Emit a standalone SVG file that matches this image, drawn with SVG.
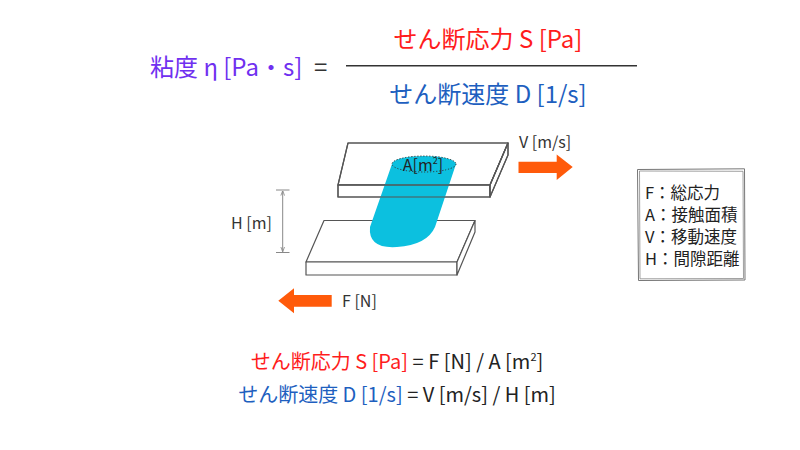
<svg xmlns="http://www.w3.org/2000/svg" width="800" height="450" viewBox="0 0 800 450">
<defs>
<style>
text{font-family:"Noto Sans CJK JP","Noto Sans",sans-serif;}
.plate{fill:#fff;stroke:#555;stroke-width:1.2;stroke-linejoin:round}
.edge{fill:none;stroke:#555;stroke-width:1.2;stroke-linejoin:round}
.arrow{fill:#ff5a0a}
.dim{stroke:#888;stroke-width:1;fill:none}
.lbl{font-size:16px;fill:#333}
.leg{font-size:16.5px;fill:#222}
.purple{fill:#7030f0}
.red{fill:#ff1c1c}
.blue{fill:#1e5fbf}
.blk{fill:#222}
</style>
<marker id="ah" viewBox="0 0 6 6" refX="5.5" refY="3" markerWidth="5" markerHeight="5" orient="auto-start-reverse">
<path d="M0,0.8 L6,3 L0,5.2" fill="none" stroke="#888" stroke-width="1"/>
</marker>
</defs>
<rect width="800" height="450" fill="#fff"/>

<g id="formula">
<text x="150" y="76" font-size="24" class="purple">粘度 η [Pa・s]</text>
<text x="314" y="76" font-size="24" fill="#333">=</text>
<line x1="346" y1="65.7" x2="637" y2="65.7" stroke="#333" stroke-width="1.5"/>
<text x="488" y="48" font-size="24" text-anchor="middle" class="red">せん断応力 S [Pa]</text>
<text x="488" y="103" font-size="24" text-anchor="middle" class="blue">せん断速度 D [1/s]</text>
</g>

<g id="bottom-plate">
<path class="plate" d="M324,220.5 L475,220.5 L457,262 L306,262 Z"/>
<path class="plate" d="M306,262 L457,262 L457,275 L306,275 Z"/>
<path class="plate" d="M457,262 L475,220.5 L475,232 L457,275 Z"/>
</g>

<g id="top-plate">
<path class="plate" d="M348,143 L508,143 L490,185 L338,185 Z"/>
<path class="plate" d="M338,185 L490,185 L490,197 L338,197 Z"/>
<path class="plate" d="M490,185 L508,143 L508,155 L490,197 Z"/>
</g>

<g id="cylinder">
<path d="M392,164 L370,227 Q368,249 397,247 Q427,245 435,227 L456,164 Z" fill="#0cc0df"/>
<g id="top-plate-edges">
<path class="edge" d="M348,143 L508,143 L490,185 L338,185 Z"/>
<path class="edge" d="M338,185 L490,185 L490,197 L338,197 Z"/>
<path class="edge" d="M490,185 L508,143 L508,155 L490,197 Z"/>
</g>
<ellipse cx="424" cy="164" rx="32" ry="8" fill="#0cc0df" stroke="#333" stroke-width="1" stroke-dasharray="1.2,1.8"/>
<text x="423" y="170.5" font-size="16" text-anchor="middle" fill="#222">A[m<tspan font-size="9" dy="-7">2</tspan><tspan dy="7">]</tspan></text>
</g>

<g id="connectors">
<g id="v-arrow">
<path class="arrow" d="M518.5,161.7 L556.7,161.7 L556.7,154.5 L572.7,167 L556.7,180 L556.7,173 L518.5,173 Z"/>
</g>
<g id="f-arrow">
<path class="arrow" d="M331.7,295 L294,295 L294,288.3 L278.3,300.8 L294,313.3 L294,306.7 L331.7,306.7 Z"/>
</g>
<g id="h-dim">
<line class="dim" x1="276" y1="190" x2="289.5" y2="190"/>
<line class="dim" x1="276" y1="252.5" x2="289.5" y2="252.5"/>
<line class="dim" x1="282.7" y1="191" x2="282.7" y2="251.5" marker-start="url(#ah)" marker-end="url(#ah)"/>
</g>
</g>

<g id="labels">
<text x="519" y="148" class="lbl">V [m/s]</text>
<text x="342" y="307" class="lbl">F [N]</text>
<text x="231" y="229" class="lbl">H [m]</text>
</g>

<g id="legend">
<path d="M637.5,169.5 L744.5,168.8 L745,280 L638.5,280.5 Z" fill="none" stroke="#777" stroke-width="1"/>
<path d="M639.5,171 L743,171.3 L743.5,278.5 L640,278.8 Z" fill="none" stroke="#888" stroke-width="0.8"/>
<text x="645" y="199" class="leg">F：総応力</text>
<text x="645" y="221" class="leg">A：接触面積</text>
<text x="645" y="243" class="leg">V：移動速度</text>
<text x="645" y="265" class="leg">H：間隙距離</text>
</g>

<g id="equations">
<text x="397" y="369" font-size="20" text-anchor="middle"><tspan class="red">せん断応力 S [Pa]</tspan><tspan class="blk"> = F [N] / A [m</tspan><tspan class="blk" font-size="11" dy="-8">2</tspan><tspan class="blk" dy="8">]</tspan></text>
<text x="397" y="402" font-size="20" text-anchor="middle"><tspan class="blue">せん断速度 D [1/s]</tspan><tspan class="blk"> = V [m/s] / H [m]</tspan></text>
</g>
</svg>
